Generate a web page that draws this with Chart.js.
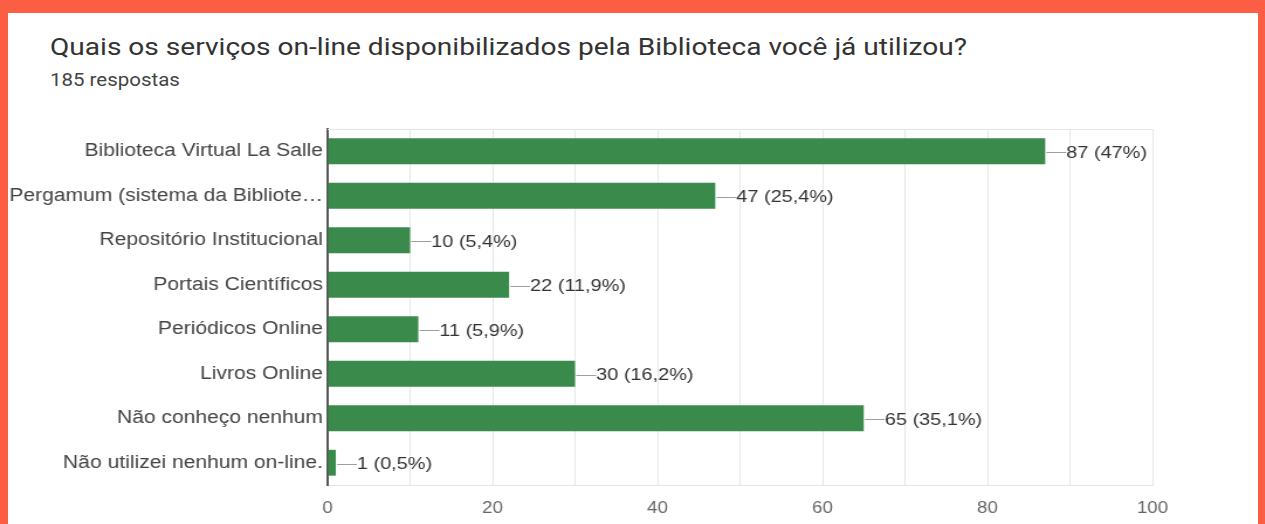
<!DOCTYPE html>
<html>
<head>
<meta charset="utf-8">
<script src="https://cdn.jsdelivr.net/npm/chart.js@4/dist/chart.umd.min.js"></script>
<style>
  html, body { margin: 0; padding: 0; }
  body { width: 1265px; height: 524px; background: #fc5e44; position: relative; overflow: hidden; }
  #panel { position: absolute; left: 8px; top: 13px; width: 1250px; height: 511px; background: #fff; }
  .stretch { transform: scaleX(1.17); transform-origin: 0 0; }
  #title { position: absolute; left: 50px; top: 33px; font: 24px Roboto, Arial, sans-serif; color: #333; white-space: nowrap; }
  #subtitle { position: absolute; left: 50px; top: 70px; font: 17.5px Roboto, Arial, sans-serif; color: #444; white-space: nowrap; }
  #wrap { position: absolute; left: 0; top: 0; width: 1081px; height: 524px; }
</style>
</head>
<body>
<div id="panel"></div>
<div id="title" class="stretch">Quais os serviços on-line disponibilizados pela Biblioteca você já utilizou?</div>
<div id="subtitle" class="stretch">185 respostas</div>
<div id="wrap" class="stretch"><canvas id="chart"></canvas></div>
<script>
const categories = [
  "Biblioteca Virtual La Salle",
  "Pergamum (sistema da Bibliote\u2026",
  "Repositório Institucional",
  "Portais Científicos",
  "Periódicos Online",
  "Livros Online",
  "Não conheço nenhum",
  "Não utilizei nenhum on-line."
];
const counts = [87, 47, 10, 22, 11, 30, 65, 1];
const percents = ["47%", "25,4%", "5,4%", "11,9%", "5,9%", "16,2%", "35,1%", "0,5%"];
const xTicks = [0, 20, 40, 60, 80, 100];

const barColor = "#3a8a4c";
const font = "'Liberation Sans', Arial, sans-serif";

const valueLabels = {
  id: "valueLabels",
  beforeDatasetsDraw(chart) {
    const { ctx, chartArea } = chart;
    ctx.save();
    ctx.strokeStyle = "#e6e6e6";
    ctx.lineWidth = 1;
    ctx.beginPath();
    ctx.moveTo(chartArea.left, Math.round(chartArea.top) + 0.5);
    ctx.lineTo(chartArea.right, Math.round(chartArea.top) + 0.5);
    ctx.stroke();
    ctx.restore();
  },
  afterDatasetsDraw(chart) {
    const { ctx } = chart;
    const meta = chart.getDatasetMeta(0);
    ctx.save();
    ctx.font = "17px " + font;
    ctx.textBaseline = "middle";
    ctx.fillStyle = "#333";
    meta.data.forEach((bar, i) => {
      const x = bar.x + 1;
      const y = Math.round(bar.y) + 1.5;
      ctx.strokeStyle = "#9e9e9e";
      ctx.lineWidth = 1;
      ctx.beginPath();
      ctx.moveTo(x, y);
      ctx.lineTo(x + 17, y);
      ctx.stroke();
      ctx.fillText(counts[i] + " (" + percents[i] + ")", x + 17, bar.y + 2);
    });
    ctx.restore();
  }
};

new Chart(document.getElementById("chart"), {
  type: "bar",
  data: {
    labels: categories,
    datasets: [{
      data: counts,
      backgroundColor: barColor,
      borderWidth: 0,
      barPercentage: 0.58,
      categoryPercentage: 1.0
    }]
  },
  options: {
    indexAxis: "y",
    responsive: true,
    maintainAspectRatio: false,
    animation: false,
    layout: { padding: { top: 129, right: 96, bottom: 0, left: 0 } },
    plugins: { legend: { display: false }, tooltip: { enabled: false } },
    scales: {
      x: {
        min: 0,
        max: 100,
        ticks: {
          stepSize: 10,
          autoSkip: false,
          maxRotation: 0,
          padding: 14,
          color: "#666",
          font: { family: font, size: 16 },
          callback: (v) => (xTicks.includes(v) ? v : "")
        },
        grid: { color: "#e6e6e6", drawTicks: false },
        border: { display: true, color: "#e6e6e6" },
        afterFit: (s) => { s.height = 39; }
      },
      y: {
        ticks: {
          autoSkip: false,
          padding: 4,
          color: "#444",
          font: { family: font, size: 18 }
        },
        grid: { display: false, drawTicks: false },
        border: { display: true, color: "#555", width: 2 },
        afterFit: (s) => { s.width = 280; }
      }
    }
  },
  plugins: [valueLabels]
});
</script>
</body>
</html>
